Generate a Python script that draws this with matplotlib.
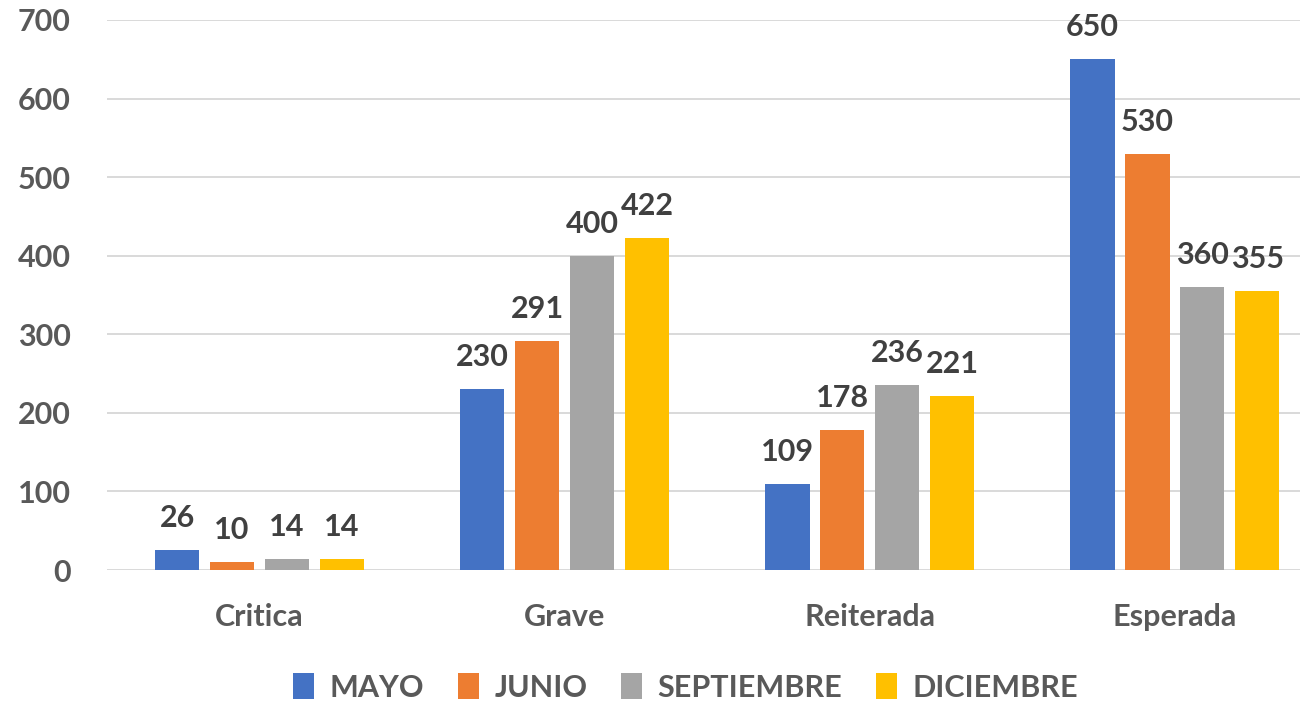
import matplotlib.pyplot as plt
import numpy as np

categories = ['Critica', 'Grave', 'Reiterada', 'Esperada']
series_names = ['MAYO', 'JUNIO', 'SEPTIEMBRE', 'DICIEMBRE']
mayo = [26, 230, 109, 650]
junio = [10, 291, 178, 530]
septiembre = [14, 400, 236, 360]
diciembre = [14, 422, 221, 355]
yticks = [0, 100, 200, 300, 400, 500, 600, 700]

colors = ['#4472C4', '#ED7D31', '#A5A5A5', '#FFC000']
series = [mayo, junio, septiembre, diciembre]

plt.rcParams['font.family'] = ['Lato', 'DejaVu Sans']

fig = plt.figure(figsize=(13.06, 7.03), dpi=100)
ax = fig.add_axes([107 / 1306, 133 / 703, 1193 / 1306, 550 / 703])

x = np.arange(len(categories))
step = 0.18
width = 0.145
for i, (vals, name, c) in enumerate(zip(series, series_names, colors)):
    pos = x + (i - 1.5) * step
    bars = ax.bar(pos, vals, width, color=c, label=name, zorder=3)
    for b, v in zip(bars, vals):
        ax.annotate(str(v), (b.get_x() + b.get_width() / 2, v),
                    xytext=(0, 13), textcoords='offset points',
                    ha='center', va='bottom', fontsize=22,
                    fontweight='bold', color='#404040')

ax.set_xlim(-0.5, 3.41)
ax.set_ylim(0, 700)
ax.set_yticks(yticks)
ax.set_xticks(x)
ax.set_xticklabels(categories)
ax.yaxis.grid(True, color='#D9D9D9', lw=1.4, zorder=0)
for s in ax.spines.values():
    s.set_visible(False)
ax.tick_params(axis='both', length=0, labelsize=22, labelcolor='#595959')
ax.tick_params(axis='y', pad=26)
ax.tick_params(axis='x', pad=24)
for t in ax.get_xticklabels() + ax.get_yticklabels():
    t.set_fontweight('bold')

leg = fig.legend(loc='center', bbox_to_anchor=(0.525, 0.022), ncol=4,
                 frameon=False, handlelength=0.7, handleheight=0.9,
                 handletextpad=0.5, columnspacing=1.1,
                 prop={'size': 22, 'weight': 'bold'})
for t in leg.get_texts():
    t.set_color('#595959')

fig.savefig('out.png', dpi=100)
